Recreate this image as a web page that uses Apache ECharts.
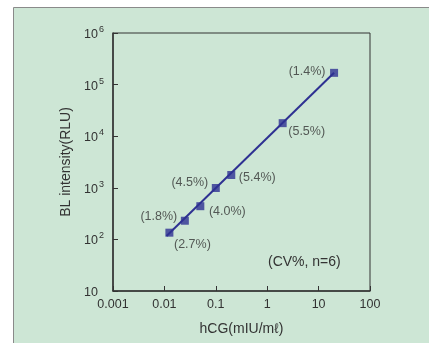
<!DOCTYPE html>
<html>
<head>
<meta charset="utf-8">
<script src="https://cdn.jsdelivr.net/npm/echarts@6/dist/echarts.min.js"></script>
<style>
  html, body { margin: 0; padding: 0; background: #fff; }
  #chart { width: 429px; height: 343px; }
</style>
</head>
<body>
<div id="chart"></div>
<script>
// ---------------- Data ----------------
let hcg_values = [0.0125, 0.025, 0.05, 0.1, 0.2, 2, 20];
let rlu_values = [135, 230, 440, 990, 1770, 17900, 169000];
let cv_values = ['2.7', '1.8', '4.0', '4.5', '5.4', '5.5', '1.4'];
// fitted line ends
let fit_x = [0.011, 20];
let fit_y = [116, 169000];
let x_tick_labels = ['0.001', '0.01', '0.1', '1', '10', '100'];
let y_tick_exps = ['', '2', '3', '4', '5', '6'];

// ---------------- Style ----------------
let main_color = '#2e3192';
let text_color = '#333';
let font_family = 'Liberation Sans, Arial, sans-serif';
// label offsets from each point (px)
let label_offsets = [[23, 12], [-26, -4], [27, 5], [-26, -5], [26, 3], [24, 8], [-27, -1]];

let chart_dom = document.getElementById('chart');
let chart = echarts.init(chart_dom);

let point_data = hcg_values.map(function (x, i) {
    return {
        value: [x, rlu_values[i]],
        label: {
            show: true,
            position: 'inside',
            offset: label_offsets[i],
            formatter: '(' + cv_values[i] + '%)',
            color: text_color,
            fontSize: 12.5,
            fontFamily: font_family
        }
    };
});

let option = {
    backgroundColor: '#fff',
    animation: false,
    graphic: [
        {
            type: 'rect',
            z: -10,
            silent: true,
            shape: { x: 13.5, y: 7.5, width: 430, height: 350 },
            style: { fill: '#cde6d5', stroke: '#8a8a8a', lineWidth: 1 }
        },
        {
            type: 'text',
            left: 268,
            top: 255,
            style: {
                text: '(CV%, n=6)',
                fill: text_color,
                font: '14px ' + font_family
            }
        }
    ],
    grid: {
        left: 113,
        top: 33,
        width: 257,
        height: 258,
        outerBoundsMode: 'none',
        show: true,
        borderColor: '#333',
        borderWidth: 1,
        backgroundColor: 'transparent'
    },
    xAxis: {
        type: 'log',
        logBase: 10,
        min: 0.001,
        max: 100,
        name: 'hCG(mIU/m\u2113)',
        nameLocation: 'middle',
        nameGap: 31,
        nameTextStyle: { color: text_color, fontSize: 14, fontFamily: font_family },
        axisLine: { lineStyle: { color: '#333', width: 1.5 } },
        axisTick: { inside: true, length: 5, lineStyle: { color: '#333' } },
        minorTick: { show: false },
        splitLine: { show: false },
        axisLabel: {
            color: text_color,
            fontSize: 12.5,
            fontFamily: font_family,
            margin: 7,
            formatter: function (v, i) { return x_tick_labels[i]; }
        }
    },
    yAxis: {
        type: 'log',
        logBase: 10,
        min: 10,
        max: 1000000,
        name: 'BL intensity(RLU)',
        nameLocation: 'middle',
        nameGap: 37,
        nameTextStyle: { color: text_color, fontSize: 14, fontFamily: font_family },
        axisLine: { lineStyle: { color: '#333', width: 1.5 } },
        axisTick: { inside: true, length: 5, lineStyle: { color: '#333' } },
        splitLine: { show: false },
        axisLabel: {
            color: text_color,
            fontFamily: font_family,
            margin: 9,
            align: 'right',
            formatter: function (v, i) {
                return '{b|10}{s|' + (y_tick_exps[i] || ' ') + '}';
            },
            rich: {
                b: { fontSize: 12.5, fontFamily: font_family, color: text_color, lineHeight: 16, verticalAlign: 'bottom' },
                s: { fontSize: 9, fontFamily: font_family, color: text_color, lineHeight: 16, verticalAlign: 'top', width: 6 }
            }
        }
    },
    series: [
        {
            type: 'line',
            data: fit_x.map(function (x, i) { return [x, fit_y[i]]; }),
            showSymbol: false,
            lineStyle: { color: main_color, width: 2 },
            silent: true,
            z: 2
        },
        {
            type: 'scatter',
            data: point_data,
            symbol: 'rect',
            symbolSize: 8,
            itemStyle: { color: main_color },
            z: 3
        }
    ]
};

chart.setOption(option);
</script>
</body>
</html>
